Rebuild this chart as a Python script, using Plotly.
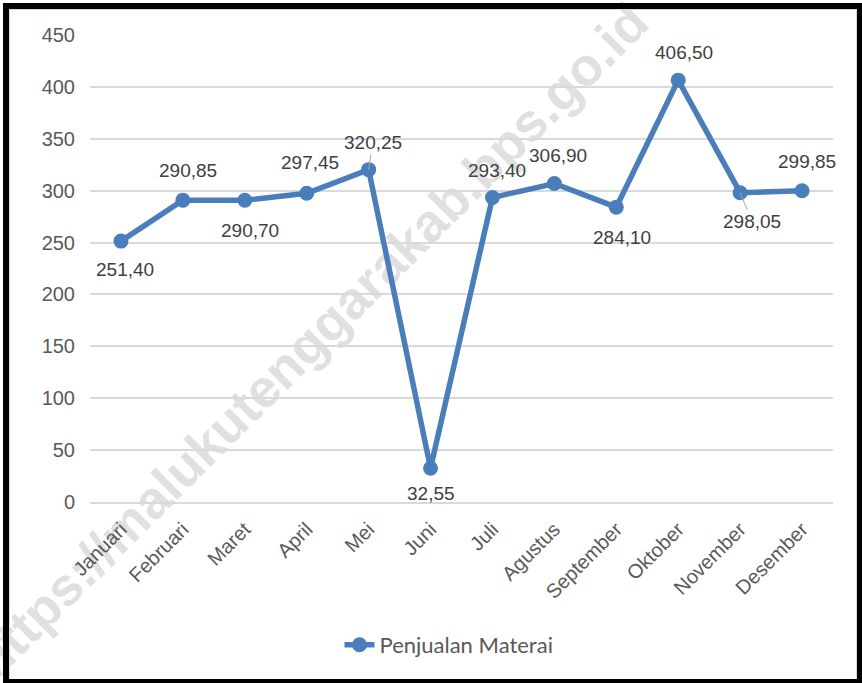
import plotly.graph_objects as go

# data
bulan = ["Januari", "Februari", "Maret", "April", "Mei", "Juni", "Juli",
         "Agustus", "September", "Oktober", "November", "Desember"]
penjualan = [251.40, 290.85, 290.70, 297.45, 320.25, 32.55, 293.40,
             306.90, 284.10, 406.50, 298.05, 299.85]
y_ticks = [0, 50, 100, 150, 200, 250, 300, 350, 400, 450]

# label placement (pixel offsets from each point) and which ones have a leader line
label_dx = [4, 5, 5, 3, 4, 0, 5, 4, 6, 6, 12, 5]
label_dy = [28, -30, 30, -31, -27, 25, -27, -28, 30, -28, 29, -29]
leader = [False, False, False, False, True, False, False, False, False, False, True, False]

W, H = 862, 683
L, R, T, B = 90, 29, 35, 181
PW, PH = W - L - R, H - T - B


def px(x):
    return (x - L) / PW


def py(y):
    return (H - B - y) / PH


def fmt(v):
    return f"{v:.2f}".replace(".", ",")


LINE = "#4a7ebb"

fig = go.Figure()
fig.add_trace(go.Scatter(
    x=bulan,
    y=penjualan,
    mode="lines+markers",
    name="Penjualan Materai",
    line=dict(color=LINE, width=5.5),
    marker=dict(color=LINE, size=15),
    cliponaxis=False,
))

annotations = []
for b, v, dx, dy, ld in zip(bulan, penjualan, label_dx, label_dy, leader):
    annotations.append(dict(
        x=b, y=v, xref="x", yref="y",
        text=fmt(v),
        showarrow=True,
        arrowhead=0,
        arrowwidth=1,
        arrowcolor="#a6a6a6" if ld else "rgba(0,0,0,0)",
        ax=dx, ay=dy,
        standoff=0,
        font=dict(family="Liberation Sans, Arial", size=19, color="#404040"),
    ))

shapes = [
    # watermark, drawn under the traces
    dict(type="rect", xref="paper", yref="paper",
         x0=px(297), x1=px(317), y0=py(347), y1=py(327),
         line=dict(width=0), fillcolor="rgba(0,0,0,0)", layer="below",
         label=dict(text="<b>https://malukutenggarakab.bps.go.id</b>",
                    textangle=-45, textposition="middle center",
                    font=dict(family="Liberation Sans, Arial", size=53,
                              color="#e0e0e0"))),
    # thin inner frame
    dict(type="rect", xref="paper", yref="paper",
         x0=px(9.5), x1=px(856.5), y0=py(679.5), y1=py(9.5),
         line=dict(color="#d9d9d9", width=1), layer="below"),
    # black outer frame
    dict(type="rect", xref="paper", yref="paper",
         x0=px(6), x1=px(860), y0=py(682), y1=py(6),
         line=dict(color="black", width=6)),
]

fig.update_layout(
    width=W,
    height=H,
    margin=dict(l=L, r=R, t=T, b=B),
    paper_bgcolor="white",
    plot_bgcolor="rgba(0,0,0,0)",
    font=dict(family="Liberation Sans, Arial", color="#595959"),
    showlegend=True,
    legend=dict(
        orientation="h",
        x=px(449), xanchor="center",
        y=py(645), yanchor="middle",
        font=dict(family="Lato", size=22, color="#595959"),
        bgcolor="rgba(0,0,0,0)",
    ),
    annotations=annotations,
    shapes=shapes,
)
fig.update_xaxes(
    type="category",
    range=[-0.5, len(bulan) - 0.5],
    tickangle=-45,
    tickfont=dict(size=20, color="#595959"),
    showgrid=False,
    showline=True,
    linecolor="#d9d9d9",
    linewidth=1.5,
    ticks="",
    ticklabelstandoff=6,
)
fig.update_yaxes(
    range=[0, 450],
    tickvals=y_ticks,
    tickfont=dict(size=20, color="#595959"),
    showgrid=True,
    gridcolor="#d9d9d9",
    gridwidth=1.5,
    zeroline=False,
    showline=False,
    ticks="",
    ticklabelstandoff=14,
)

# page body has a default margin; drop it so the figure fills the window
fig.write_html("out.html", config={"displayModeBar": False},
               post_script="document.body.style.margin='0';")
